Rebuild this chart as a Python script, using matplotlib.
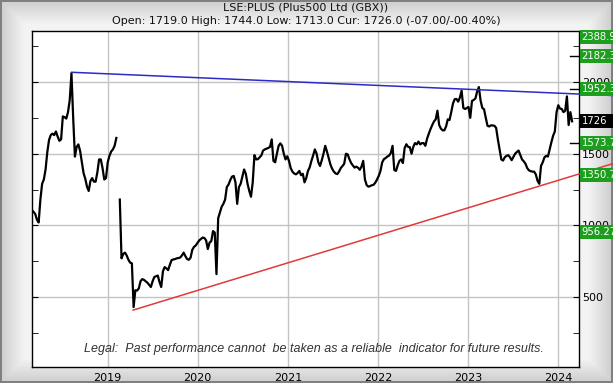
import numpy as np
import pandas as pd
import matplotlib
matplotlib.use("Agg")
import matplotlib.pyplot as plt
import matplotlib.transforms as mtransforms
from matplotlib.patches import Rectangle

# weekly closes (roughly one list per year)
p2018 = [1107, 1095, 1080, 1040, 1020, 1180, 1290, 1320, 1390, 1510,
         1595, 1630, 1640, 1630, 1655, 1620, 1590, 1600, 1760, 1755,
         1745, 1790, 1874, 2063, 1750, 1480, 1547, 1565, 1520, 1440,
         1365, 1325, 1270, 1240, 1310, 1330, 1305, 1305, 1370, 1460,
         1460, 1400, 1320, 1330]
p2019 = [1440, 1485, 1515, 1530, 1555, 1610, np.nan, 1180, 770, 800,
         810, 790, 760, 740, 735, 430, 548, 545, 560, 610,
         625, 620, 610, 600, 585, 570, 610, 640, 645, 650,
         605, 570, 680, 709, 700, 688, 725, 758, 762, 765,
         770, 772, 776, 790, 810, 785, 765, 760, 775, 830,
         850, 860]
p2020 = [878, 895, 905, 915, 912, 895, 835, 880, 890, 960,
         950, 660, 1050, 1090, 1130, 1150, 1180, 1267, 1285, 1316,
         1340, 1345, 1300, 1150, 1267, 1290, 1340, 1390, 1360, 1290,
         1240, 1200, 1300, 1490, 1460, 1462, 1475, 1488, 1522, 1530,
         1535, 1540, 1547, 1600, 1450, 1440, 1500, 1555, 1572, 1555,
         1500, 1460]
p2021 = [1482, 1450, 1400, 1375, 1362, 1356, 1365, 1380, 1350, 1360,
         1300, 1330, 1380, 1405, 1450, 1488, 1530, 1500, 1440, 1414,
         1455, 1500, 1555, 1515, 1470, 1425, 1395, 1375, 1362, 1358,
         1375, 1400, 1414, 1430, 1500, 1495, 1462, 1435, 1418, 1403,
         1410, 1402, 1388, 1410, 1450, 1320, 1281, 1270, 1274, 1280,
         1283, 1298]
p2022 = [1320, 1345, 1380, 1440, 1462, 1470, 1480, 1487, 1505, 1555,
         1386, 1380, 1420, 1450, 1460, 1435, 1540, 1566, 1548, 1545,
         1500, 1547, 1574, 1565, 1585, 1565, 1574, 1574, 1555, 1605,
         1640, 1672, 1700, 1725, 1740, 1800, 1700, 1675, 1663, 1663,
         1690, 1740, 1735, 1790, 1850, 1880, 1882, 1863, 1892, 1940,
         1819, 1812]
p2023 = [1819, 1826, 1750, 1868, 1875, 1885, 1935, 1965, 1870, 1819,
         1810, 1750, 1695, 1690, 1698, 1697, 1695, 1680, 1600, 1530,
         1460, 1452, 1475, 1485, 1490, 1475, 1455, 1478, 1500, 1512,
         1522, 1490, 1460, 1447, 1430, 1400, 1384, 1378, 1375, 1375,
         1355, 1310, 1290, 1415, 1440, 1475, 1485, 1480, 1530, 1580,
         1625, 1655]
p2024 = [1790, 1838, 1815, 1812, 1790, 1800, 1900, 1700, 1790, 1726]

prices = p2018 + p2019 + p2020 + p2021 + p2022 + p2023 + p2024
dates = pd.date_range("2018-02-27", periods=len(prices), freq="7D")

# trend lines (start / end)
upper_dates = pd.to_datetime(["2018-08-08", "2024-08-11"])
upper_vals = [2068, 1906]
lower_dates = pd.to_datetime(["2019-04-14", "2024-08-11"])
lower_vals = [409, 1431]

green_levels = [2388.9, 2182.3, 1952.3, 1573.7, 1350.7, 956.27]
green_text = ["2388.9", "2182.3", "1952.3", "1573.7", "1350.7", "956.27"]
current = 1726
dash_levels = [2182.3, 1952.3, 1573.7]

title = "LSE:PLUS (Plus500 Ltd (GBX))"
subtitle = "Open: 1719.0 High: 1744.0 Low: 1713.0 Cur: 1726.0 (-07.00/-00.40%)"
legal = "Legal:  Past performance cannot  be taken as a reliable  indicator for future results."

W, H = 613, 383
fig = plt.figure(figsize=(W / 100, H / 100), dpi=100)

# bevelled grey frame
bg = fig.add_axes([0, 0, 1, 1], zorder=-5)
yy, xx = np.mgrid[0:H, 0:W]
d = np.minimum(np.minimum(xx, W - 1 - xx), np.minimum(yy, H - 1 - yy))
shade = 0.80 + 0.15 * np.clip(d / 24.0, 0, 1)
shade[d < 2] = 0.5
bg.imshow(shade, cmap="gray", vmin=0, vmax=1, aspect="auto", interpolation="bilinear")
bg.axis("off")

ax = fig.add_axes([32 / W, 1 - 367 / H, 547 / W, 336 / H])
ax.set_facecolor("white")

ax.plot(dates, prices, color="black", lw=1.6, zorder=3)
ax.plot(upper_dates, upper_vals, color="#2b2bc8", lw=1.1, zorder=4, clip_on=False)
ax.plot(lower_dates, lower_vals, color="#e03a3a", lw=1.1, zorder=4, clip_on=False)

ax.set_xlim(pd.Timestamp("2018-02-28"), pd.Timestamp("2024-03-26"))
ax.set_ylim(12, 2356)

years = pd.to_datetime([f"{y}-01-01" for y in range(2019, 2025)])
ax.set_xticks(years)
ax.set_xticklabels([str(y.year) for y in years], fontsize=8)
ax.set_yticks([500, 1000, 1500, 2000])
ax.set_yticks(np.arange(250, 2351, 250), minor=True)
ax.yaxis.tick_right()
ax.tick_params(axis="y", which="both", left=True, right=True, direction="in",
               length=4, labelsize=8, pad=2)
ax.tick_params(axis="x", length=0, pad=4)
ax.grid(True, which="major", color="#c4c4c4", lw=1)
ax.set_axisbelow(True)
for s in ax.spines.values():
    s.set_color("black")
    s.set_linewidth(1)

# right-hand level boxes
tr = mtransforms.blended_transform_factory(fig.transFigure, ax.transData)
upp = 336 / (2356 - 12)  # px per unit
box_h = 14 / upp
top_lim = 2356 - box_h / 2 + 10
for v, t in zip(green_levels, green_text):
    yv = min(v, top_lim)
    ax.add_patch(Rectangle((580 / W, yv - box_h / 2), 40 / W, box_h, transform=tr,
                           facecolor="#1e9e1e", edgecolor="none", clip_on=False, zorder=6))
    ax.text(581.5 / W, yv, t, transform=tr, color="white", fontsize=7.2,
            va="center", ha="left", clip_on=False, zorder=7)
ax.add_patch(Rectangle((580 / W, current - box_h / 2), 40 / W, box_h, transform=tr,
                       facecolor="black", edgecolor="none", clip_on=False, zorder=6))
ax.text(581.5 / W, current, str(current), transform=tr, color="white", fontsize=7.2,
        va="center", ha="left", clip_on=False, zorder=7)
for v in dash_levels:
    ax.plot([570 / W, 578 / W], [v, v], transform=tr, color="black", lw=1,
            clip_on=False, zorder=5)

fig.text(306 / W, 1 - 8 / H, title, ha="center", va="center", fontsize=8, color="#111111")
fig.text(306 / W, 1 - 21 / H, subtitle, ha="center", va="center", fontsize=8, color="#111111")
fig.text(314 / W, 1 - 349 / H, legal, ha="center", va="center", fontsize=9,
         style="italic", family="Liberation Sans", color="#333333", zorder=10)

fig.savefig("out.png", dpi=100)
